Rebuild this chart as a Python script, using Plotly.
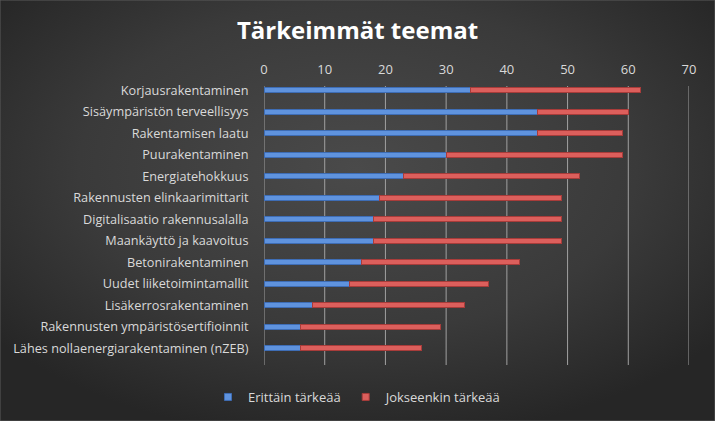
import base64
import plotly.graph_objects as go

categories = [
    "Korjausrakentaminen",
    "Sisäympäristön terveellisyys",
    "Rakentamisen laatu",
    "Puurakentaminen",
    "Energiatehokkuus",
    "Rakennusten elinkaarimittarit",
    "Digitalisaatio rakennusalalla",
    "Maankäyttö ja kaavoitus",
    "Betonirakentaminen",
    "Uudet liiketoimintamallit",
    "Lisäkerrosrakentaminen",
    "Rakennusten ympäristösertifioinnit",
    "Lähes nollaenergiarakentaminen (nZEB)",
]
erittain = [34, 45, 45, 30, 23, 19, 18, 18, 16, 14, 8, 6, 6]
jokseenkin = [28, 15, 14, 29, 29, 30, 31, 31, 26, 23, 25, 23, 20]
x_ticks = [0, 10, 20, 30, 40, 50, 60, 70]

W, H = 715, 421

svg = f'''<svg xmlns="http://www.w3.org/2000/svg" width="{W}" height="{H}" viewBox="0 0 {W} {H}" preserveAspectRatio="none">
<defs><radialGradient id="g" cx="50%" cy="40%" r="65%">
<stop offset="0%" stop-color="#4a4a4a"/>
<stop offset="60%" stop-color="#3a3a3a"/>
<stop offset="100%" stop-color="#262626"/>
</radialGradient></defs>
<rect width="{W}" height="{H}" fill="url(#g)"/>
</svg>'''
bg_src = "data:image/svg+xml;base64," + base64.b64encode(svg.encode()).decode()

font = "Open Sans"
txt = "#d9d9d9"
blue, blue_edge = "#5f93de", "#3e6db5"
red, red_edge = "#dc5f5c", "#a83c3a"

fig = go.Figure()
fig.add_trace(go.Bar(
    y=categories, x=erittain, orientation="h", name="Erittäin tärkeää",
    width=0.24, showlegend=False, legendgroup="a",
    marker=dict(color=blue, line=dict(color=blue_edge, width=1)),
))
fig.add_trace(go.Bar(
    y=categories, x=jokseenkin, orientation="h", name="Jokseenkin tärkeää",
    width=0.24, showlegend=False, legendgroup="b",
    marker=dict(color=red, line=dict(color=red_edge, width=1)),
))
# legend entries (square markers like the original)
for name, col, edge, grp in [("Erittäin tärkeää", blue, blue_edge, "a"),
                             ("Jokseenkin tärkeää", red, red_edge, "b")]:
    fig.add_trace(go.Scatter(
        x=[None], y=[None], mode="markers", name=name, legendgroup=grp,
        marker=dict(symbol="square", size=7, color=col, line=dict(color=edge, width=1)),
    ))

shapes = [dict(type="line", xref="x", yref="y domain", x0=v, x1=v, y0=0, y1=1,
               line=dict(color="#a0a0a0", width=1), layer="below")
          for v in x_ticks]
shapes.append(dict(type="rect", xref="paper", yref="paper", x0=0, y0=0, x1=1, y1=1,
                   line=dict(color="#5a5a5a", width=1), layer="above"))

fig.update_layout(
    width=W, height=H,
    margin=dict(l=0, r=0, t=0, b=0, autoexpand=False),
    barmode="stack",
    paper_bgcolor="#333333",
    plot_bgcolor="rgba(0,0,0,0)",
    font=dict(family=font, color=txt, size=12),
    title=dict(text="<b>Tärkeimmät teemat</b>", x=0.5, xanchor="center",
               y=1 - 31 / H, yanchor="middle",
               font=dict(family=font, size=24, color="#ffffff")),
    images=[dict(source=bg_src, xref="paper", yref="paper", x=0, y=1,
                 sizex=1, sizey=1, xanchor="left", yanchor="top",
                 sizing="stretch", layer="below")],
    xaxis=dict(
        domain=[264 / W, 689 / W], range=[0, 70], side="top", automargin=False,
        tickvals=x_ticks, ticktext=[str(v) for v in x_ticks],
        showgrid=False, zeroline=False,
        showline=False, ticks="outside", ticklen=6, tickcolor="rgba(0,0,0,0)",
        tickfont=dict(size=13, color=txt), fixedrange=True,
    ),
    yaxis=dict(
        domain=[1 - 365 / H, 1 - 86 / H], range=[12.78, -0.2], automargin=False,
        type="category", categoryorder="array", categoryarray=categories,
        showgrid=False, zeroline=False, showline=False,
        ticks="outside", ticklen=12, tickcolor="rgba(0,0,0,0)",
        tickfont=dict(size=12.7, color=txt),
    ),
    legend=dict(orientation="h", x=0.5, xanchor="center", y=1 - 397 / H,
                yanchor="middle", font=dict(size=13, color=txt),
                bgcolor="rgba(0,0,0,0)", itemwidth=30, traceorder="normal"),
    showlegend=True,
    shapes=shapes,
)

fig.write_html("out.html")
